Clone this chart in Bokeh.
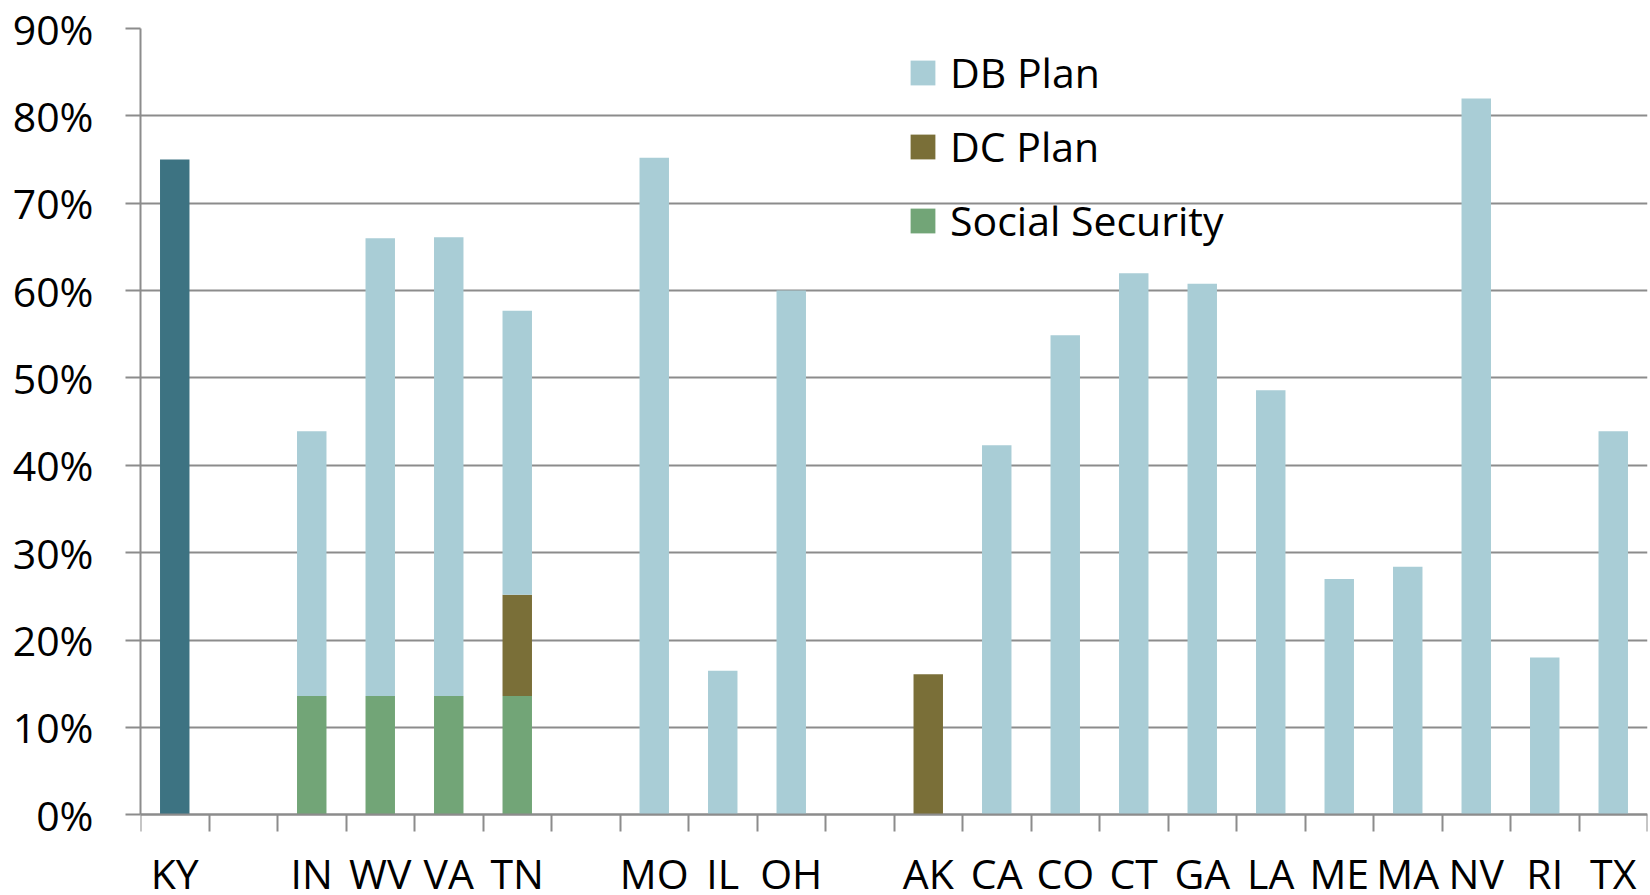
from bokeh.plotting import figure
from bokeh.models import (Range1d, LinearAxis, FixedTicker, ColumnDataSource, Legend, LegendItem)
from bokeh.embed import file_html
from bokeh.resources import INLINE

states = ["KY", "", "IN", "WV", "VA", "TN", "", "MO", "IL", "OH", "",
          "AK", "CA", "CO", "CT", "GA", "LA", "ME", "MA", "NV", "RI", "TX"]
social_security = [0, 0, 13.6, 13.6, 13.6, 13.6, 0, 0, 0, 0, 0,
                   0, 0, 0, 0, 0, 0, 0, 0, 0, 0, 0]
dc_plan = [0, 0, 0, 0, 0, 11.6, 0, 0, 0, 0, 0,
           16.1, 0, 0, 0, 0, 0, 0, 0, 0, 0, 0]
db_plan = [0, 0, 30.3, 52.4, 52.5, 32.5, 0, 75.2, 16.5, 60.0, 0,
           0, 42.3, 54.9, 62.0, 60.8, 48.6, 27.0, 28.4, 82.0, 18.0, 43.9]
ky_hybrid = [75.0, 0, 0, 0, 0, 0, 0, 0, 0, 0, 0,
             0, 0, 0, 0, 0, 0, 0, 0, 0, 0, 0]
y_ticks = [0, 10, 20, 30, 40, 50, 60, 70, 80, 90]

FONT = "Open Sans"
GRAY = "#8c8c8c"

n = len(states)
centers = [i + 0.5 for i in range(n)]
boundaries = list(range(n + 1))
src = ColumnDataSource(dict(x=centers, ss=social_security, dc=dc_plan, db=db_plan, ky=ky_hybrid))

# the frame runs down to the bottom of the canvas; the value axis stops at 0
p = figure(x_range=Range1d(0, n), y_range=Range1d(-9.0, 90),
           width=1648, height=893, output_backend="svg", toolbar_location=None,
           x_axis_location=None, min_border_left=140, min_border_right=1,
           min_border_top=28, min_border_bottom=0, outline_line_color=None,
           background_fill_color="white", border_fill_color="white")

rs = p.vbar_stack(["ss", "dc", "db", "ky"], x="x", width=0.43, source=src,
                  fill_color=["#72a577", "#7a6f38", "#a9cdd6", "#3d7382"], line_color=None)

# y axis
p.yaxis.ticker = FixedTicker(ticks=y_ticks)
p.yaxis.bounds = (0, 90)
p.yaxis.major_label_overrides = {t: f"{t}%" for t in y_ticks}
p.yaxis.major_label_text_font = FONT
p.yaxis.major_label_text_font_size = "41px"
p.yaxis.major_label_text_color = "black"
p.yaxis.major_tick_out = 15
p.yaxis.major_tick_in = 0
p.yaxis.minor_tick_line_color = None
p.yaxis.major_tick_line_color = GRAY
p.yaxis.major_tick_line_width = 2
p.yaxis.axis_line_color = GRAY
p.yaxis.axis_line_width = 2
p.yaxis.major_label_standoff = 32

p.ygrid.ticker = FixedTicker(ticks=y_ticks)
p.ygrid.grid_line_color = GRAY
p.ygrid.grid_line_width = 2
p.xgrid.visible = False

# x axis at 0: labels at category centres, tick marks at category boundaries
x_axis = LinearAxis(fixed_location=0,
                    ticker=FixedTicker(ticks=centers, minor_ticks=boundaries),
                    major_label_overrides={c: s for c, s in zip(centers, states)},
                    major_tick_out=0, major_tick_in=0, major_tick_line_color=None,
                    minor_tick_out=17, minor_tick_in=0, minor_tick_line_color=GRAY,
                    minor_tick_line_width=2, axis_line_color=GRAY, axis_line_width=2,
                    major_label_text_font=FONT, major_label_text_font_size="41px",
                    major_label_text_color="black", major_label_standoff=13)
p.add_layout(x_axis, "below")

legend = Legend(items=[LegendItem(label="DB Plan", renderers=[rs[2]]),
                       LegendItem(label="DC Plan", renderers=[rs[1]]),
                       LegendItem(label="Social Security", renderers=[rs[0]])],
                location=(767, 645), glyph_width=31, glyph_height=31, spacing=18,
                label_text_font=FONT, label_text_font_size="41px", label_text_color="black",
                label_standoff=12, padding=0, margin=0,
                background_fill_alpha=0, border_line_alpha=0)
p.add_layout(legend)

open("out.html", "w").write(file_html(p, INLINE))
